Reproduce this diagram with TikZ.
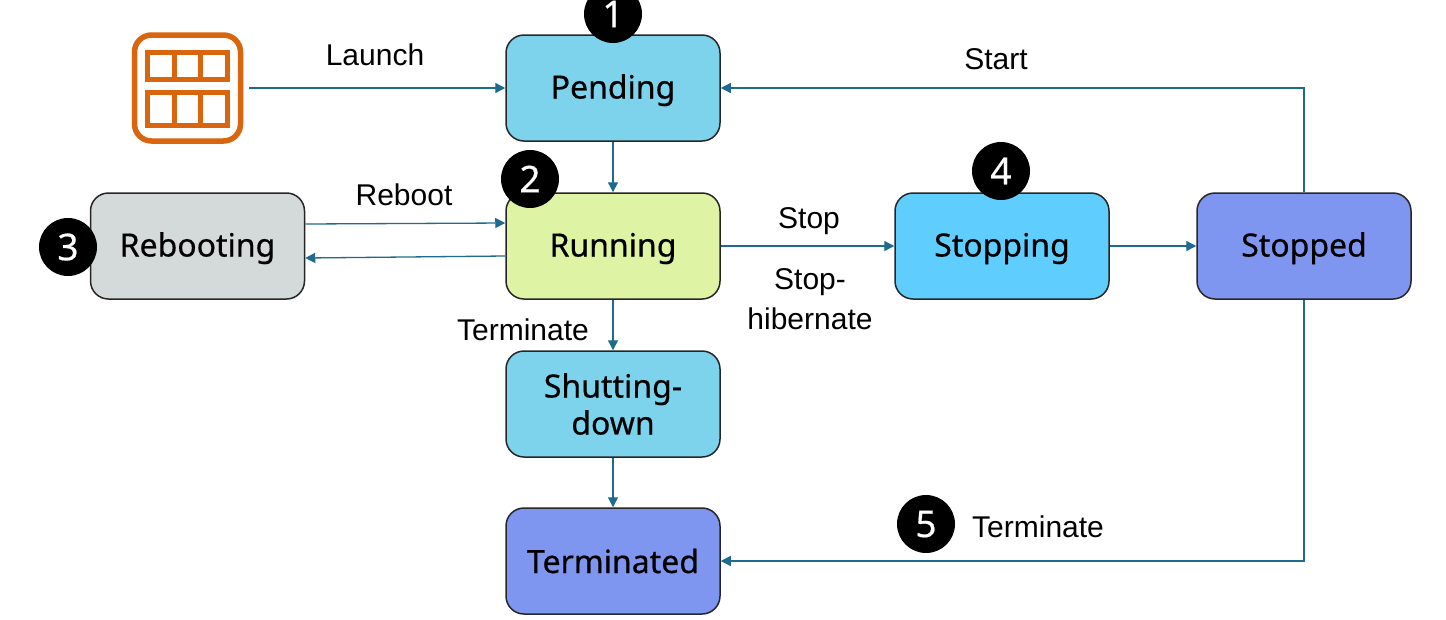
\documentclass[tikz,border=0pt]{standalone}
\usepackage{fontspec}
\setmainfont{Liberation Sans}
\newfontfamily\statefont[FakeBold=0.5]{Noto Sans}
\usetikzlibrary{arrows.meta,calc}
\definecolor{linkc}{HTML}{1F6A8F}
\definecolor{iconc}{HTML}{D9650F}
\definecolor{cyanf}{HTML}{7DD2EC}
\definecolor{limef}{HTML}{DFF3A5}
\definecolor{greyf}{HTML}{D3DAD9}
\definecolor{bluef}{HTML}{5FCDFE}
\definecolor{violetf}{HTML}{7F96F0}
\newcommand{\lowered}[1]{\raisebox{0pt}[21pt][0pt]{#1}}
\tikzset{
  x=1pt,y=-1pt,
  state/.style={draw=black!85,line width=1.5pt,rounded corners=18pt,minimum width=214pt,minimum height=106pt,inner sep=0pt,align=center,font=\statefont\fontsize{32}{38}\selectfont,text=black},
  badge/.style={circle,fill=black,text=white,minimum size=58pt,inner sep=0pt,font=\statefont\fontsize{37}{44}\selectfont},
  lbl/.style={inner sep=0pt,align=center,font=\fontsize{30}{40}\selectfont,text=black},
  link/.style={draw=linkc,line width=1.3pt,-{Triangle[length=10pt,width=10pt]}},
  iconline/.style={draw=iconc,line width=4.7pt,line join=miter},
}
\begin{document}
\begin{tikzpicture}
\useasboundingbox (0,0) rectangle (1446,619);
\fill[white] (0,0) rectangle (1446,619);
% icon
\node[draw=iconc,line width=5.5pt,rounded corners=17pt,minimum width=106pt,minimum height=106pt,inner sep=0pt] (icon) at (187.5,88) {};
\draw[iconline] (147.5,52.5) rectangle (227.5,79.5);
\draw[iconline] (147.5,92.5) rectangle (227.5,125.5);
\draw[iconline] (174.2,52.5) -- (174.2,79.5) (200.8,52.5) -- (200.8,79.5);
\draw[iconline] (174.2,92.5) -- (174.2,125.5) (200.8,92.5) -- (200.8,125.5);
% states
\node[state,fill=cyanf] (pending) at (613,88) {\lowered{Pending}};
\node[state,fill=limef] (running) at (613,246) {\lowered{Running}};
\node[state,fill=greyf] (rebooting) at (197.5,246) {\lowered{Rebooting}};
\node[state,fill=bluef] (stopping) at (1002,246) {\lowered{Stopping}};
\node[state,fill=violetf] (stopped) at (1304,246) {\lowered{Stopped}};
\node[state,fill=cyanf] (shutting) at (613,404) {Shutting-\\[-1pt]down};
\node[state,fill=violetf] (terminated) at (613,561) {Terminated};
% connectors
\draw[link,shorten <=6pt] (icon.east) -- (pending.west);
\draw[link] (pending.south) -- (running.north);
\draw[link] (running.south) -- (shutting.north);
\draw[link] (shutting.south) -- (terminated.north);
\draw[link] (running.east) -- (stopping.west);
\draw[link] (stopping.east) -- (stopped.west);
\draw[link] ($(rebooting.east)+(0,-22)$) -- ($(running.west)+(0,-23)$);
\draw[link] ($(running.west)+(0,10)$) -- ($(rebooting.east)+(0,12)$);
\draw[link] (stopped.north) |- (pending.east);
\draw[link] (stopped.south) |- (terminated.east);
% badges
\node[badge] (b1) at (613,14) {1};
\node[badge] (b2) at (530,179) {2};
\node[badge] (b3) at (68,247) {3};
\node[badge] (b4) at (1001,171) {4};
\node[badge] (b5) at (926,524) {5};
% labels
\node[lbl] (l1) at (375,55) {Launch};
\node[lbl] (l2) at (996,59) {Start};
\node[lbl] (l3) at (404,195) {Reboot};
\node[lbl] (l4) at (809,221) {Stop};
\node[lbl] (l5) at (810,299) {Stop-\\hibernate};
\node[lbl] (l6) at (523,330) {Terminate};
\node[lbl] (l7) at (1038,527) {Terminate};
\end{tikzpicture}
\end{document}
